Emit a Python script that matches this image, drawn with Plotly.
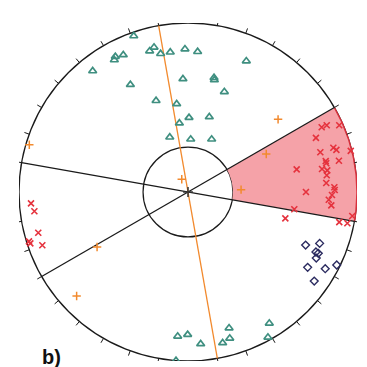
import numpy as np
import plotly.graph_objects as go

# ---- data (stereonet projected coordinates, unit circle: x = East, y = North) ----
set1_x = [-0.321, -0.201, -0.227, -0.162, -0.105, -0.018, -0.430, -0.436, -0.383, -0.564,
          -0.341, -0.030, -0.189, -0.067, -0.051, -0.108, 0.057, 0.345, 0.154, 0.156,
          0.215, 0.006, 0.126, 0.016, 0.140,
          -0.002, 0.075, 0.243, 0.247, 0.205, 0.481, 0.473, -0.061, -0.071]
set1_y = [0.923, 0.856, 0.834, 0.818, 0.827, 0.846, 0.801, 0.781, 0.811, 0.716,
          0.635, 0.669, 0.540, 0.521, 0.407, 0.324, 0.830, 0.775, 0.676, 0.663,
          0.593, 0.440, 0.444, 0.312, 0.312,
          -0.844, -0.899, -0.805, -0.866, -0.893, -0.777, -0.860, -0.854, -0.998]

set2_x = [0.791, 0.821, 0.895, 0.757, 0.860, 0.878, 0.783, 0.963, 0.815, 0.818,
          0.893, 0.793, 0.824, 0.643, 0.821, 0.818, 0.866, 0.868, 0.852, 0.833,
          0.848, 0.698, 0.629, 0.576, 0.972, 0.895, 0.943,
          -0.929, -0.909, -0.886, -0.941, -0.933, -0.862]
set2_y = [0.383, 0.395, 0.395, 0.320, 0.262, 0.249, 0.235, 0.243, 0.183, 0.170,
          0.185, 0.136, 0.128, 0.134, 0.099, 0.053, 0.028, 0.012, -0.018, -0.046,
          -0.079, 0.000, -0.102, -0.156, -0.142, -0.178, -0.185,
          -0.067, -0.114, -0.241, -0.292, -0.304, -0.315]

set3_x = [0.696, 0.779, 0.757, 0.771, 0.759, 0.708, 0.812, 0.880, 0.747]
set3_y = [-0.314, -0.304, -0.355, -0.363, -0.391, -0.446, -0.454, -0.432, -0.527]

random_x = [-0.939, -0.037, 0.533, 0.463, 0.314, -0.538, -0.659]
random_y = [0.280, 0.075, 0.430, 0.225, 0.014, -0.325, -0.615]

plane_azimuths = [100, 60]          # black great-circle traces (vertical planes)
orange_azimuth = 350                 # orange plane
sector_az = [60, 100]                # highlighted sector (azimuth range)
inner_r = 0.266                      # inner cone radius
tick_az = list(range(0, 360, 10))

def pol(az_deg, r):
    a = np.radians(np.asarray(az_deg, dtype=float))
    return r * np.sin(a), r * np.cos(a)

fig = go.Figure()

# outer / inner circles
fig.add_shape(type="circle", xref="x", yref="y", x0=-1, y0=-1, x1=1, y1=1,
              line=dict(color="#1a1a1a", width=1.3), layer="below")
fig.add_shape(type="circle", xref="x", yref="y", x0=-inner_r, y0=-inner_r, x1=inner_r, y1=inner_r,
              line=dict(color="#1a1a1a", width=1.2), layer="below")

# highlighted sector
arc = np.linspace(sector_az[0], sector_az[1], 60)
ox, oy = pol(arc, 1.0)
ix, iy = pol(arc[::-1], inner_r)
fig.add_trace(go.Scatter(x=np.r_[ox, ix, ox[:1]], y=np.r_[oy, iy, oy[:1]], mode="lines",
                         fill="toself", fillcolor="#f5a2a8", line=dict(width=0),
                         hoverinfo="skip", showlegend=False))
fig.add_trace(go.Scatter(x=ox, y=oy, mode="lines", line=dict(color="#d8303c", width=1.5),
                         hoverinfo="skip", showlegend=False))

# ticks
tx, ty = [], []
for az in tick_az:
    L = 1.05 if az % 90 == 0 else 1.03
    x0, y0 = pol(az, 1.0)
    x1, y1 = pol(az, L)
    tx += [float(x0), float(x1), None]
    ty += [float(y0), float(y1), None]
fig.add_trace(go.Scatter(x=tx, y=ty, mode="lines", line=dict(color="#1a1a1a", width=1),
                         hoverinfo="skip", showlegend=False))

# planes
for az in plane_azimuths:
    px, py = pol([az, az + 180], 1.0)
    fig.add_trace(go.Scatter(x=px, y=py, mode="lines", line=dict(color="#1a1a1a", width=1.3),
                             hoverinfo="skip", showlegend=False))
px, py = pol([orange_azimuth, orange_azimuth + 180], 1.0)
fig.add_trace(go.Scatter(x=px, y=py, mode="lines", line=dict(color="#f28a2e", width=1.3),
                         hoverinfo="skip", showlegend=False))

# centre mark
fig.add_trace(go.Scatter(x=[0], y=[0], mode="markers",
                         marker=dict(symbol="cross-thin-open", size=7, color="#333333",
                                     line=dict(width=1.5, color="#333333")),
                         hoverinfo="skip", showlegend=False))

# data sets
fig.add_trace(go.Scatter(x=set1_x, y=set1_y, mode="markers",
                         marker=dict(symbol="triangle-up-open", size=7, color="#3f8f80",
                                     line=dict(width=1.7, color="#3f8f80")), showlegend=False))
fig.add_trace(go.Scatter(x=set2_x, y=set2_y, mode="markers",
                         marker=dict(symbol="x-thin-open", size=6, color="#e5323d",
                                     line=dict(width=1.6, color="#e5323d")), showlegend=False))
fig.add_trace(go.Scatter(x=set3_x, y=set3_y, mode="markers",
                         marker=dict(symbol="diamond-open", size=6, color="#2b2b60",
                                     line=dict(width=1.4, color="#2b2b60")), showlegend=False))
fig.add_trace(go.Scatter(x=random_x, y=random_y, mode="markers",
                         marker=dict(symbol="cross-thin-open", size=6, color="#f28a2e",
                                     line=dict(width=1.5, color="#f28a2e")), showlegend=False))

# labels
fig.add_annotation(x=0, y=1.05, xref="x", yref="y", text="N", showarrow=False,
                   yanchor="bottom", yshift=-3, font=dict(family="Arial, Liberation Sans", size=12, color="#111"))
fig.add_annotation(x=-1.04, y=0.0, xref="x", yref="y", text="W", showarrow=False,
                   xanchor="right", textangle=-90, xshift=0, yshift=1,
                   font=dict(family="Arial, Liberation Sans", size=7, color="#111"))
fig.add_annotation(x=51 / 367, y=(367 - 357) / 367, xref="paper", yref="paper", text="<b>b)</b>",
                   showarrow=False, xanchor="center", yanchor="middle",
                   font=dict(family="Arial, Liberation Sans", size=20, color="#111"))

fig.update_layout(
    width=367, height=367, margin=dict(l=0, r=0, t=0, b=0),
    paper_bgcolor="white", plot_bgcolor="white",
    xaxis=dict(domain=[19 / 367, 357 / 367], range=[-1, 1], visible=False, fixedrange=True),
    yaxis=dict(domain=[(367 - 361) / 367, (367 - 23) / 367], range=[-1, 1], visible=False, fixedrange=True),
)

fig.write_html("out.html")
